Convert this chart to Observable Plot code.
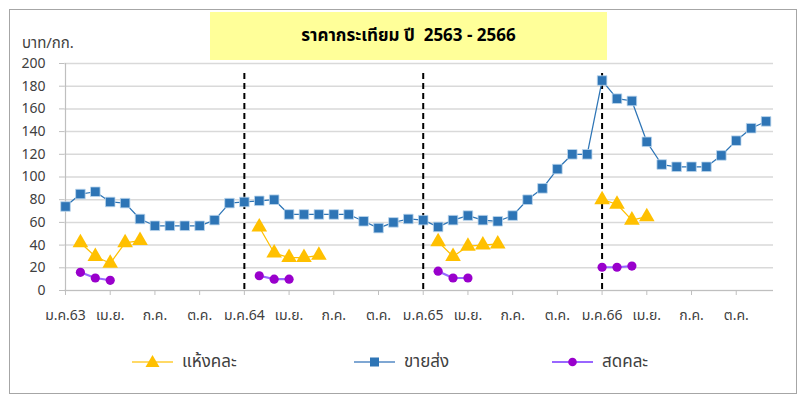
<!DOCTYPE html>
<html><head><meta charset="utf-8">
<script src="https://cdn.jsdelivr.net/npm/d3@7"></script>
<script src="https://cdn.jsdelivr.net/npm/@observablehq/plot@0.6"></script>
<style>
html,body{margin:0;padding:0;background:#fff;}
body{font-family:Tahoma,"Leelawadee UI","Noto Sans Thai","Noto Sans",sans-serif;}
#wrap{position:relative;width:810px;height:401px;overflow:hidden;}
#frame{position:absolute;left:9px;top:9px;width:788px;height:385px;border:1px solid #a6a6a6;box-sizing:border-box;}
#title{position:absolute;left:210px;top:12px;width:397px;height:48px;background:#ffff99;display:flex;align-items:center;justify-content:center;font-weight:bold;font-size:17px;color:#000;}
#unit{position:absolute;left:22px;top:32px;font-size:15px;color:#404040;}
#chart{position:absolute;left:0;top:0;}
#legend{position:absolute;left:0;top:349px;width:810px;height:26px;font-size:17px;color:#404040;}
.lg{position:absolute;top:0;display:flex;align-items:center;height:26px;}
.lg svg{margin-right:9px;}
</style></head>
<body><div id="wrap"><div id="frame"></div><div id="chart"></div><div id="title">ราคากระเทียม ปี&nbsp; 2563 - 2566</div><div id="unit">บาท/กก.</div><div id="legend"></div></div>
<script>
// month index 0 = ม.ค.63 (Jan 2020) ... 47 = ธ.ค.66 (Dec 2023)
const wholesale = [74,85,87,78,77,63,57,57,57,57,62,77,
                   78,79,80,67,67,67,67,67,61,55,60,63,
                   62,56,62,66,62,61,66,80,90,107,120,120,
                   185,169,167,131,111,109,109,109,119,132,143,149];
const dryMixed = [null,42,30,24,42,44,null,null,null,null,null,null,
                  null,56,33,29,29,31,null,null,null,null,null,null,
                  null,43,30,39,40,41,null,null,null,null,null,null,
                  80,76,62,65,null,null,null,null,null,null,null,null];
const freshMixed = [null,16,11,9,null,null,null,null,null,null,null,null,
                    null,13,10,10,null,null,null,null,null,null,null,null,
                    null,17,11,11,null,null,null,null,null,null,null,null,
                    20.5,20.5,21.5,null,null,null,null,null,null,null,null,null];
const xTickIdx = [0,3,6,9,12,15,18,21,24,27,30,33,36,39,42,45];
const xTickLabels = ["ม.ค.63","เม.ย.","ก.ค.","ต.ค.","ม.ค.64","เม.ย.","ก.ค.","ต.ค.","ม.ค.65","เม.ย.","ก.ค.","ต.ค.","ม.ค.66","เม.ย.","ก.ค.","ต.ค."];
const yearStarts = [12,24,36];
const seriesNames = ["แห้งคละ","ขายส่ง","สดคละ"];

const toRows = arr => arr.map((v,i)=>({i, v}));
const W = toRows(wholesale), D = toRows(dryMixed), F = toRows(freshMixed);
const defd = d => d.v != null;

const plot = Plot.plot({
  width: 810, height: 401,
  marginLeft: 64, marginRight: 37, marginTop: 63, marginBottom: 111,
  style: {fontFamily: 'Tahoma,"Leelawadee UI","Noto Sans Thai","Noto Sans",sans-serif', fontSize: "14px", color: "#404040", background: "transparent", overflow: "visible"},
  x: {domain: [0, 47.5], range: [65, 773]},
  y: {domain: [0, 200], range: [290, 63]},
  marks: [
    Plot.gridY(d3.range(0, 201, 20), {stroke: "#d9d9d9", strokeOpacity: 1, strokeWidth: 1.5, x1: 0, x2: 47.5, insetLeft: -1}),
    Plot.ruleY([0], {stroke: "#bfbfbf", strokeWidth: 1.2, x1: 0, x2: 47.5, insetLeft: -1}),
    Plot.ruleX([0], {stroke: "#bfbfbf", strokeWidth: 1.2, y1: 0, y2: 200}),
    Plot.axisY(d3.range(0, 201, 20), {tickSize: 5, stroke: "#bfbfbf", tickPadding: 14, label: null, fontSize: 14, fill: "#404040"}),
    Plot.axisX(xTickIdx, {tickSize: 5, stroke: "#bfbfbf", tickPadding: 15, label: null, fontSize: 14, fill: "#404040",
      tickFormat: (d) => xTickLabels[xTickIdx.indexOf(d)]}),
    Plot.ruleX(yearStarts, {y1: 0, y2: 200, stroke: "#000", strokeWidth: 2, strokeDasharray: "6,4", insetBottom: -6, insetTop: -1}),
    Plot.line(W.filter(defd), {x: "i", y: "v", stroke: "#2e75b6", strokeWidth: 1.25}),
    Plot.line(D, {x: "i", y: d => d.v ?? NaN, stroke: "#ffc000", strokeWidth: 1.25}),
    Plot.line(F, {x: "i", y: d => d.v ?? NaN, stroke: "#9966ff", strokeWidth: 2.2}),
    Plot.dot(W.filter(defd), {x: "i", y: "v", symbol: "square", r: 5.4, fill: "#2e75b6", stroke: "#bdd7ee", strokeWidth: 0.8}),
    Plot.dot(D.filter(defd), {x: "i", y: "v", symbol: "triangle", r: 5.8, fill: "#ffc000", stroke: "none"}),
    Plot.dot(F.filter(defd), {x: "i", y: "v", r: 4.6, fill: "#9900cc", stroke: "none"})
  ]
});
document.getElementById("chart").appendChild(plot);

// legend
const legendItems = [
  {name: seriesNames[0], left: 132, line: "#ffd966", fill: "#ffc000", sym: "tri"},
  {name: seriesNames[1], left: 354, line: "#7fa7d3", fill: "#2e75b6", sym: "sq"},
  {name: seriesNames[2], left: 552, line: "#9966ff", fill: "#9900cc", sym: "dot"}
];
const lg = document.getElementById("legend");
for (const it of legendItems) {
  const d = document.createElement("div");
  d.className = "lg"; d.style.left = it.left + "px";
  let shape = "";
  if (it.sym === "tri") shape = `<path d="M20.5,6 L27.5,18 L13.5,18 Z" fill="${it.fill}"/>`;
  else if (it.sym === "sq") shape = `<rect x="16" y="8.5" width="9" height="9" fill="${it.fill}"/>`;
  else shape = `<circle cx="20.5" cy="13" r="4.3" fill="${it.fill}"/>`;
  d.innerHTML = `<svg width="41" height="26"><line x1="0" x2="41" y1="13" y2="13" stroke="${it.line}" stroke-width="2"/>${shape}</svg><span>${it.name}</span>`;
  lg.appendChild(d);
}
</script></body></html>
